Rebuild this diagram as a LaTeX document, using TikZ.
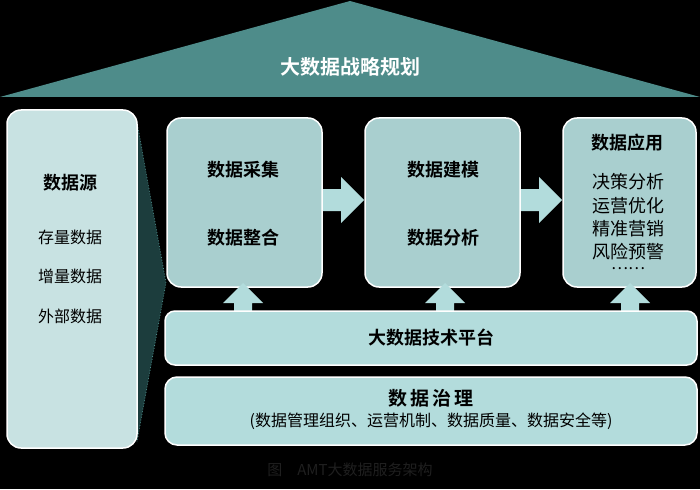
\documentclass[tikz,border=0pt]{standalone}
\usepackage{fontspec}
\setmainfont{Noto Sans CJK SC}
\newfontfamily\cjkb{Noto Sans CJK SC Bold}
\begin{document}
\begin{tikzpicture}[x=1pt,y=-1pt,
  box/.style={draw=white,line width=1.5pt,rounded corners=14pt},
  hd/.style={font=\cjkb\fontsize{18}{20}\selectfont,text=black},
  tx/.style={font=\fontsize{16}{18}\selectfont,text=black},
  blk/.style={fill=arrowc,draw=none}]
\definecolor{roofc}{HTML}{4E8C8A}
\definecolor{leftc}{HTML}{C8E2E2}
\definecolor{boxc}{HTML}{A9CFCF}
\definecolor{platc}{HTML}{B3DCDC}
\definecolor{arrowc}{HTML}{B2DCDC}
\definecolor{func}{HTML}{1C3D3D}
\fill[black] (0,0) rectangle (700,489);
\useasboundingbox (0,0) rectangle (700,489);
% roof
\fill[roofc] (0,97) -- (350,1) -- (700,97) -- cycle;
\node[font=\cjkb\fontsize{20}{22}\selectfont,text=white] (title) at (350,67) {大数据战略规划};
% funnel
\fill[func] (137,122) -- (166,283) -- (137,442) -- cycle;
\draw[roofc,dotted,thick] (137,122) -- (166,283) -- (137,442);
% left box
\draw[box,fill=leftc] (7,110) rectangle (137,448);
\node[hd] (src) at (70,183) {数据源};
\node[tx] (s1) at (70,237) {存量数据};
\node[tx] (s2) at (70,276) {增量数据};
\node[tx] (s3) at (70,316) {外部数据};
% top boxes
\draw[box,fill=boxc] (167,118) rectangle (322,287);
\node[hd] (a1) at (243,170) {数据采集};
\node[hd] (a2) at (243,238) {数据整合};
\draw[box,fill=boxc] (365,118) rectangle (520,287);
\node[hd] (b1) at (443,170) {数据建模};
\node[hd] (b2) at (443,238) {数据分析};
\draw[box,fill=boxc] (563,118) rectangle (696,287);
\node[hd] (c0) at (627,143) {数据应用};
\node[tx,align=center,font=\fontsize{18}{23.3}\selectfont] (c1) at (628,217) {决策分析\\运营优化\\精准营销\\风险预警};
\node[tx] (c2) at (628,269) {……};
% right arrows
\fill[blk] (323,189) -- (341,189) -- (341,177) -- (364,200) -- (341,223) -- (341,211) -- (323,211) -- cycle;
\fill[blk] (521,189) -- (539,189) -- (539,177) -- (562,200) -- (539,223) -- (539,211) -- (521,211) -- cycle;
% up arrows
\foreach \x in {243,445,630}{
  \fill[blk] (\x-9,312) -- (\x-9,303) -- (\x-20,303) -- (\x,283) -- (\x+20,303) -- (\x+9,303) -- (\x+9,312) -- cycle;}
% platform
\draw[box,rounded corners=10pt,fill=platc] (165,311) rectangle (697,365);
\node[hd] (plat) at (431,338) {大数据技术平台};
\draw[box,rounded corners=12pt,fill=platc] (165,377) rectangle (697,445);
\node[hd,font=\cjkb\fontsize{19}{20}\selectfont] (gov) at (431,398) {数\,据\,治\,理};
\node[tx] (gov2) at (431,421) {(数据管理组织、运营机制、数据质量、数据安全等)};
\node[font=\fontsize{15}{16}\selectfont,text=black!88!white] (cap) at (350,470) {图\quad AMT大数据服务架构};
\end{tikzpicture}
\end{document}
